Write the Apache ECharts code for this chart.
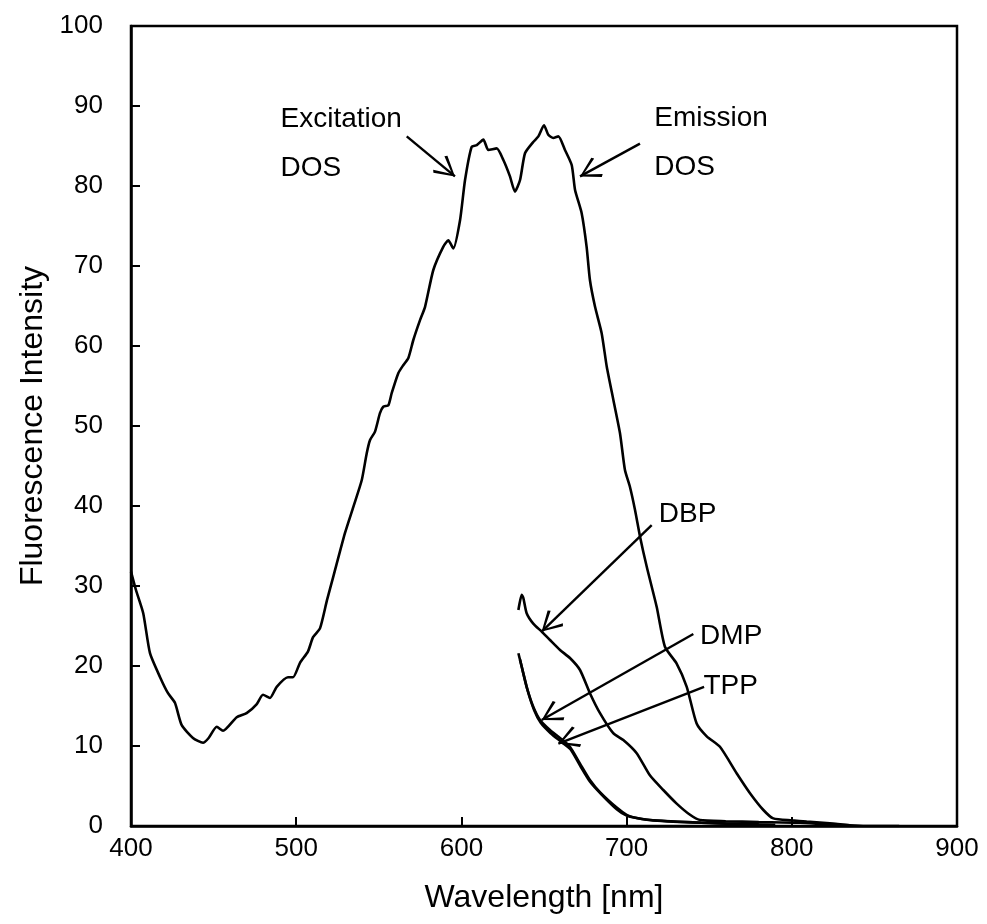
<!DOCTYPE html>
<html>
<head>
<meta charset="utf-8">
<script src="https://cdn.jsdelivr.net/npm/echarts@6/dist/echarts.min.js"></script>
<style>
  html, body { margin: 0; padding: 0; background: #fff; }
  #chart { width: 987px; height: 924px; }
</style>
</head>
<body>
<div id="chart"></div>
<script>
// DOS: excitation + emission spectrum (one trace)
var dosWavelength = [400, 403, 407.4, 411.5, 417.6, 422.4, 426.6, 430.7, 437.5, 443.6, 447, 451.9, 455.7, 464, 470, 476, 479.9, 484.1, 488.2, 495, 498.1, 502.3, 507.1, 510.2, 514.4, 518.6, 522.5, 529.5, 534.6, 539.7, 542.7, 544.7, 547.7, 550.7, 552.7, 555.8, 557.8, 561.8, 564.8, 567.9, 570.9, 574.9, 578, 583, 589, 592.1, 595.1, 599.2, 602.2, 606.2, 609.3, 613.3, 616.3, 621.4, 625.4, 629.4, 632.4, 635.5, 638.5, 643.5, 646.6, 650, 652.6, 655.6, 658.7, 662.7, 666.8, 668.8, 672.8, 675.8, 677.8, 680.9, 684.9, 688, 692, 696, 699, 702, 705.1, 708.1, 712.2, 718.2, 723.2, 730.3, 736.4, 742.4, 748.5, 756.5, 766.6, 774.7, 782.8, 788.8, 800, 809, 825, 835, 845, 865];
var dosIntensity = [31.8, 29.5, 26.6, 21.6, 18.6, 16.6, 15.4, 12.6, 11.0, 10.4, 11.0, 12.4, 11.9, 13.6, 14.1, 15.2, 16.4, 16.0, 17.4, 18.6, 18.6, 20.4, 21.8, 23.6, 24.7, 28.2, 31.2, 36.6, 39.9, 43.25, 46.6, 48.25, 49.3, 51.6, 52.4, 52.6, 54.1, 56.6, 57.6, 58.5, 60.75, 63.2, 64.9, 69.5, 72.4, 73.2, 72.2, 75.75, 80.75, 84.9, 85.1, 85.8, 84.5, 84.7, 83.25, 81.2, 79.3, 80.75, 84.1, 85.5, 86.2, 87.6, 86.4, 86.0, 86.2, 84.5, 82.6, 79.5, 76.6, 72.4, 68.25, 64.9, 61.6, 57.4, 53.25, 49.1, 44.5, 42.4, 39.5, 36.2, 32.4, 27.4, 22.4, 20.3, 17.4, 12.8, 11.2, 9.9, 6.6, 4.1, 2.0, 0.95, 0.7, 0.55, 0.3, 0.1, 0, 0];

var dbpWavelength = [634.5, 636.5, 637.5, 639.5, 643.5, 648.6, 653.6, 659.7, 665.7, 671.8, 677.8, 683.9, 691.9, 698, 706.1, 714.2, 722.2, 730.3, 738.4, 744.4, 760, 780, 805, 820, 835];
var dbpIntensity = [27, 28.9, 28.5, 26.6, 25.3, 24.3, 23.25, 22, 21, 19.5, 16.6, 14.1, 11.6, 10.75, 9.1, 6.3, 4.5, 2.8, 1.4, 0.75, 0.6, 0.5, 0.4, 0.2, 0.05];

var dmpWavelength = [634.5, 636.5, 639.5, 643.5, 647.6, 653.6, 659.7, 665.7, 671.8, 677.8, 684, 694, 700, 704, 714, 740, 760, 790];
var dmpIntensity = [21.6, 19.9, 17.4, 14.9, 13.25, 12, 11, 9.9, 7.8, 5.75, 4.2, 2.3, 1.4, 1.1, 0.75, 0.45, 0.3, 0.15];

var tppWavelength = [635.5, 637, 640, 644, 648, 654, 660, 666, 672, 678, 685, 694, 700, 706, 716, 745, 780];
var tppIntensity = [20.8, 19.5, 17.0, 14.5, 12.9, 11.6, 10.6, 9.6, 7.5, 5.5, 3.9, 2.1, 1.3, 1.0, 0.7, 0.4, 0.2];

// annotation texts and arrows, in data coordinates
var labelNames = ['Excitation', 'DOS', 'Emission', 'DOS', 'DBP', 'DMP', 'TPP'];
var labelX = [490.5, 490.5, 716.8, 716.8, 719.5, 744.5, 746.5];
var labelY = [88.4, 82.2, 88.5, 82.3, 39, 23.75, 17.5];

var arrowFrom = [[566.9, 86.2], [708.1, 85.3], [715.2, 37.6], [740.4, 24.0], [746.9, 17.4]];
var arrowTo = [[596.1, 81.2], [671.8, 81.2], [648.6, 24.3], [648.6, 13.25], [658.7, 10.3]];

var xTicks = [400, 500, 600, 700, 800, 900];

function zip(xs, ys) {
  return xs.map(function (x, i) { return [x, ys[i]]; });
}

var font = '"Liberation Sans", Arial, sans-serif';
// open chevron pointing up, tip at the symbol centre
var chevron = 'path://M5,-10L5,-9.99M5,0L10,9L9,10L5,1.8L1,10L0,9Z';

var lineStyle = { color: '#000', width: 2.6 };

var chart = echarts.init(document.getElementById('chart'));

var option = {
  backgroundColor: '#fff',
  animation: false,
  grid: {
    left: 131, right: 30, top: 26, bottom: 98,
    show: true, borderColor: '#000', borderWidth: 2.5
  },
  xAxis: {
    type: 'value',
    min: 400, max: 900, interval: 100,
    name: 'Wavelength [nm]',
    nameLocation: 'middle',
    nameGap: 56,
    nameTextStyle: { fontFamily: font, fontSize: 32, color: '#000' },
    axisLine: { show: true, lineStyle: { color: '#000', width: 2.5 } },
    axisTick: { show: true, inside: true, length: 9, lineStyle: { color: '#000', width: 2 } },
    axisLabel: { fontFamily: font, fontSize: 26, color: '#000', margin: 10,
      formatter: function (v) { return xTicks.indexOf(v) >= 0 ? String(v) : ''; } },
    splitLine: { show: false }
  },
  yAxis: {
    type: 'value',
    min: 0, max: 100, interval: 10,
    name: 'Fluorescence Intensity',
    nameLocation: 'middle',
    nameGap: 82,
    nameTextStyle: { fontFamily: font, fontSize: 32, color: '#000' },
    axisLine: { show: true, lineStyle: { color: '#000', width: 2.5 } },
    axisTick: { show: true, inside: true, length: 9, lineStyle: { color: '#000', width: 2 } },
    axisLabel: { fontFamily: font, fontSize: 26, color: '#000', margin: 28 },
    splitLine: { show: false }
  },
  series: [
    { name: 'DOS', type: 'line', data: zip(dosWavelength, dosIntensity), showSymbol: false, smooth: 0.2, lineStyle: lineStyle },
    { name: 'DBP', type: 'line', data: zip(dbpWavelength, dbpIntensity), showSymbol: false, smooth: 0.2, lineStyle: lineStyle },
    { name: 'DMP', type: 'line', data: zip(dmpWavelength, dmpIntensity), showSymbol: false, smooth: 0.2, lineStyle: lineStyle },
    { name: 'TPP', type: 'line', data: zip(tppWavelength, tppIntensity), showSymbol: false, smooth: 0.2, lineStyle: lineStyle },
    {
      name: 'labels',
      type: 'scatter',
      symbolSize: 0,
      silent: true,
      itemStyle: { opacity: 1, color: '#000' },
      data: labelNames.map(function (n, i) { return { name: n, value: [labelX[i], labelY[i]] }; }),
      label: {
        show: true, position: 'right', distance: 0, formatter: '{b}',
        fontFamily: font, fontSize: 28, color: '#000'
      },
      markLine: {
        silent: true,
        symbol: ['none', chevron],
        symbolSize: [22, 42],
        label: { show: false },
        lineStyle: { color: '#000', width: 2.4, type: 'solid', opacity: 1 },
        data: arrowFrom.map(function (p, i) {
          return [{ coord: p }, { coord: arrowTo[i] }];
        })
      }
    }
  ]
};

chart.setOption(option);
</script>
</body>
</html>
